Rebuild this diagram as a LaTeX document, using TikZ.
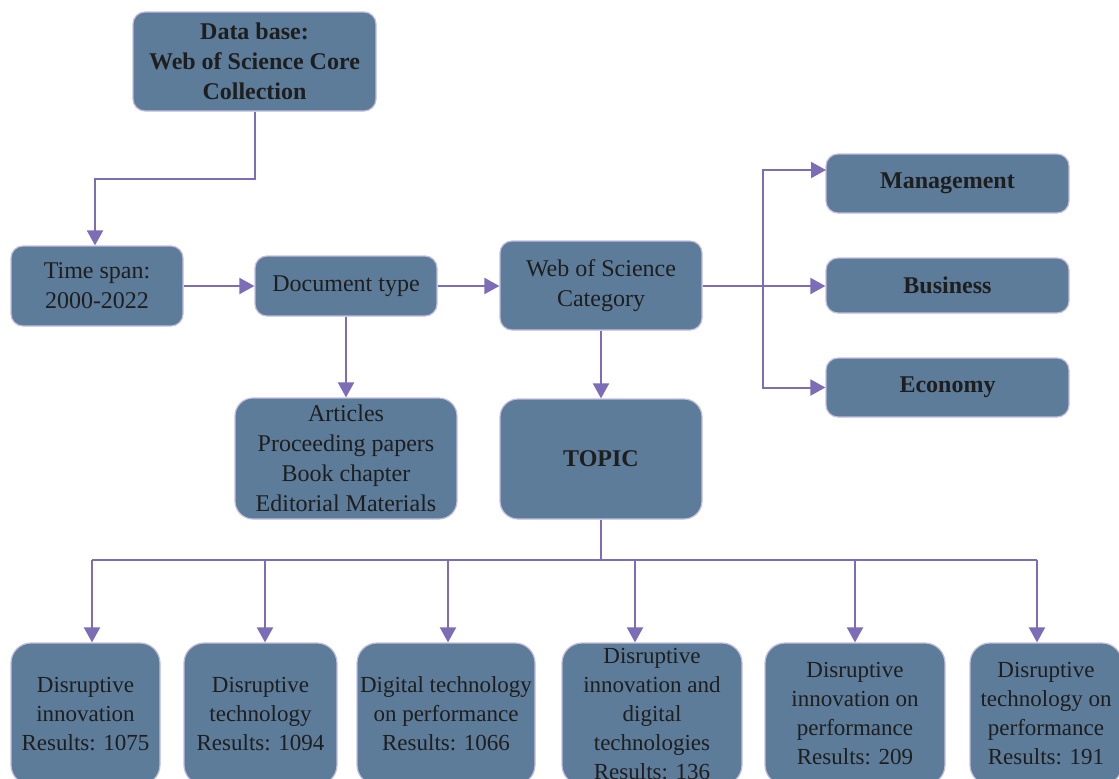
\documentclass[tikz,border=0pt]{standalone}
\usepackage{fontspec}
\setmainfont{Liberation Serif}
\usetikzlibrary{arrows.meta,calc}
\definecolor{boxfill}{HTML}{5C7C99}
\definecolor{boxline}{HTML}{C4BCE0}
\definecolor{arrc}{HTML}{7C6DB6}
\definecolor{txt}{HTML}{1E1E1E}
\begin{document}
\begin{tikzpicture}[x=0.5pt,y=-0.5pt,
  box/.style={draw=boxline, line width=0.6pt, fill=boxfill, rounded corners=6pt,
    inner sep=0pt, align=center, text=txt, font=\fontsize{12}{15}\selectfont},
  bbox/.style={box, rounded corners=10pt, minimum height=71pt,
    font=\fontsize{11.5}{14.5}\selectfont},
  arr/.style={draw=arrc, line width=1pt, -{Triangle[length=7.5pt,width=8pt]}},
  ln/.style={draw=arrc, line width=1pt}]
\useasboundingbox (0,0) rectangle (1119,778);
% top nodes
\node[box, minimum width=121.5pt, minimum height=49.5pt, font=\fontsize{12}{15}\selectfont\bfseries] (db) at (254.5,61.5) {Data base:\\Web of Science Core\\Collection};
\node[box, minimum width=86pt, minimum height=40pt] (time) at (97,286) {Time span:\\2000-2022};
\node[box, minimum width=91pt, minimum height=30pt] (doc) at (346,286) {Document type};
\node[box, minimum width=101pt, minimum height=44.5pt] (wos) at (601,285.5) {Web of Science\\Category};
\node[box, minimum width=121.5pt, minimum height=29.5pt, font=\fontsize{12}{15}\selectfont\bfseries] (mgmt) at (947.5,183.5) {Management};
\node[box, minimum width=121.5pt, minimum height=27.5pt, font=\fontsize{12}{15}\selectfont\bfseries] (bus) at (947.5,285.5) {Business};
\node[box, minimum width=121.5pt, minimum height=29.5pt, font=\fontsize{12}{15}\selectfont\bfseries] (econ) at (947.5,387.5) {Economy};
\node[box, rounded corners=9pt, minimum width=111pt, minimum height=60.5pt] (art) at (346,458.5) {Articles\\Proceeding papers\\Book chapter\\Editorial Materials};
\node[box, rounded corners=9pt, minimum width=101pt, minimum height=60pt, font=\fontsize{12}{15}\selectfont\bfseries] (topic) at (601,459) {TOPIC};
% bottom nodes
\node[bbox, minimum width=74.5pt] (b1) at (85.5,714) {Disruptive\\innovation\\Results: 1075};
\node[bbox, minimum width=76.5pt] (b2) at (260.5,714) {Disruptive\\technology\\Results: 1094};
\node[bbox, minimum width=89pt] (b3) at (446,714) {Digital technology\\on performance\\Results: 1066};
\node[bbox, minimum width=90pt] (b4) at (652,714) {Disruptive\\innovation and\\digital\\technologies\\Results: 136};
\node[bbox, minimum width=90pt] (b5) at (855,714) {Disruptive\\innovation on\\performance\\Results: 209};
\node[bbox, minimum width=76pt] (b6) at (1046,714) {Disruptive\\technology on\\performance\\Results: 191};
% connectors
\coordinate (c1) at (95,179);
\draw[arr] (db.south) |- (c1) -- (c1 |- time.north);
\draw[arr] (time.east) -- (doc.west |- time.east);
\draw[arr] (doc.east) -- (wos.west |- doc.east);
\draw[arr] (doc.south) -- (art.north);
\draw[arr] (wos.south) -- (topic.north);
\coordinate (br) at (763,286);
\coordinate (mg) at (826,170);
\draw[arr] (wos.east |- br) -- (bus.west |- br);
\draw[arr] (br) |- (mg);
\draw[arr] (br) |- (econ.west);
\coordinate (tj) at (601,560);
\coordinate (t1) at (92,560);
\coordinate (t2) at (265,560);
\coordinate (t3) at (448,560);
\coordinate (t4) at (635,560);
\coordinate (t5) at (855,560);
\coordinate (t6) at (1037,560);
\draw[ln] (topic.south) -- (tj);
\draw[ln] (t1) -- (t6);
\draw[arr] (t1) -- (t1 |- b1.north);
\draw[arr] (t2) -- (t2 |- b2.north);
\draw[arr] (t3) -- (t3 |- b3.north);
\draw[arr] (t4) -- (t4 |- b4.north);
\draw[arr] (t5) -- (t5 |- b5.north);
\draw[arr] (t6) -- (t6 |- b6.north);
\end{tikzpicture}
\end{document}
